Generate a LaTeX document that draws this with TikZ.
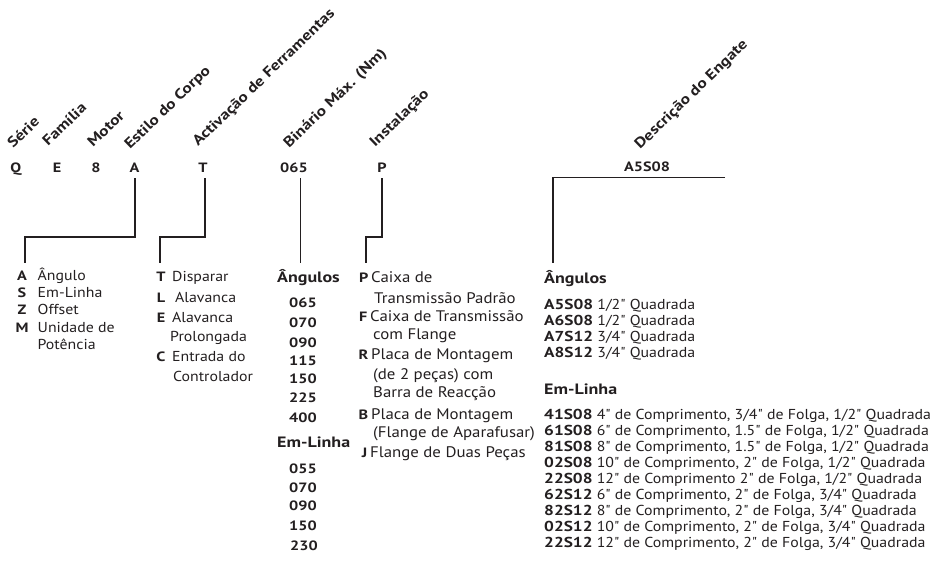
\documentclass[tikz,border=0pt]{standalone}
\usepackage{fontspec}
\setmainfont{PT Sans}[Ligatures=TeXOff, FakeStretch=1.1, BoldFeatures={FakeStretch=1.2}]
\definecolor{ink}{HTML}{231F20}
\begin{document}
\begin{tikzpicture}[x=1pt,y=-1pt,
  every node/.style={inner sep=0pt, text=ink},
  hdr/.style={font=\bfseries\fontsize{14.5}{14.5}\selectfont, rotate=44, anchor=base west},
  code/.style={font=\bfseries\fontsize{13.5}{13.5}\selectfont, anchor=base},
  key/.style={font=\bfseries\fontsize{13.5}{13.5}\selectfont, anchor=base},
  keye/.style={font=\bfseries\fontsize{13.5}{13.5}\selectfont, anchor=base east},
  sub/.style={font=\bfseries\fontsize{15}{15}\selectfont, anchor=base west},
  txt/.style={font=\fontsize{14.4}{14.4}\selectfont, anchor=base west},
  txti/.style={font=\fontsize{15.3}{15.3}\selectfont, anchor=base west},
  bkt/.style={draw=ink, line width=1.3pt, line join=miter}]
\useasboundingbox (0,0) rectangle (933,566);

% rotated headers
\node[hdr] (hS) at (13,149) {Série};
\node[hdr] (hF) at (48,147) {Família};
\node[hdr] (hM) at (93,148) {Motor};
\node[hdr] (hE) at (130,150) {Estilo do Corpo};
\node[hdr] (hA) at (198,147) {Activação de Ferramentas};
\node[hdr] (hB) at (289,149) {Binário Máx. (Nm)};
\node[hdr] (hI) at (375,148) {Instalação};
\node[hdr] (hD) at (640,150) {Descrição do Engate};

% code letters
\node[code] (cQ) at (15.7,172) {Q};
\node[code] (cE) at (57,172) {E};
\node[code] (c8) at (96,172) {8};
\node[code] (cA) at (134.5,172) {A};
\node[code] (cT) at (203,172) {T};
\node[code] (c065) at (294,172) {065};
\node[code] (cP) at (382,172) {P};
\node[code] (cD) at (647,171) {A5S08};

% brackets
\coordinate (aK) at (25,237); \coordinate (aE) at (25,263);
\draw[bkt] ([yshift=-6pt,xshift=0.5pt]cA.south) |- (aK) -- (aE);
\coordinate (tK) at (160,237); \coordinate (tE) at (160,263);
\draw[bkt] ([yshift=-6pt,xshift=2pt]cT.south) |- (tK) -- (tE);
\coordinate (bE) at (300.7,263);
\draw[bkt] ([yshift=-6pt]c065.south -| bE) -- (bE);
\coordinate (pK) at (366,237); \coordinate (pE) at (366,263);
\draw[bkt] ([yshift=-6pt]cP.south) |- (pK) -- (pE);
\coordinate (dR) at (725,177.5); \coordinate (dK) at (553,177.5); \coordinate (dE) at (553,263);
\draw[bkt] (dR) -- (dK) -- (dE);

% Estilo do Corpo list
\node[key] (kA) at (22,280) {A}; \node[txt] (tA1) at (37.5,280) {Ângulo};
\node[key] (kS) at (22,297) {S}; \node[txt] (tS1) at (37.5,297) {Em-Linha};
\node[key] (kZ) at (22,314.5) {Z}; \node[txt] (tZ1) at (37.5,314.5) {Offset};
\node[key] (kM) at (22,332) {M}; \node[txt] (tM1) at (37.5,332) {Unidade de};
\node[txt] (tM2) at (37.5,349) {Potência};

% Activacao list
\node[key] (kT) at (161,281.5) {T}; \node[txt] (tT1) at (172,281.5) {Disparar};
\node[key] (kL) at (161,302) {L}; \node[txt] (tL1) at (175,302) {Alavanca};
\node[key] (kE) at (161,322.5) {E}; \node[txt] (tE1) at (172,322.5) {Alavanca};
\node[txt] (tE2) at (170,341.5) {Prolongada};
\node[key] (kC) at (161,361.5) {C}; \node[txt] (tC1) at (172,361.5) {Entrada do};
\node[txt] (tC2) at (173,381.5) {Controlador};

% Binario list
\node[sub] (bH1) at (277,282) {Ângulos};
\node[key] (b1) at (303,307) {065};
\node[key] (b2) at (303,327) {070};
\node[key] (b3) at (303,347) {090};
\node[key] (b4) at (303,365) {115};
\node[key] (b5) at (303,383) {150};
\node[key] (b6) at (303,402) {225};
\node[key] (b7) at (303,422) {400};
\node[sub] (bH2) at (277,447) {Em-Linha};
\node[key] (b8) at (303,473) {055};
\node[key] (b9) at (303,492) {070};
\node[key] (b10) at (303,510) {090};
\node[key] (b11) at (303,530) {150};
\node[key] (b12) at (304,550) {230};

% Instalacao list
\node[keye] (iP) at (368.5,282.5) {P}; \node[txti] (iP1) at (371,282.5) {Caixa de};
\node[txti] (iP2) at (374,303.5) {Transmissão Padrão};
\node[keye] (iF) at (367.5,321.5) {F}; \node[txti] (iF1) at (370,321.5) {Caixa de Transmissão};
\node[txti] (iF2) at (373,339.5) {com Flange};
\node[keye] (iR) at (368.5,359.5) {R}; \node[txti] (iR1) at (371,359.5) {Placa de Montagem};
\node[txti] (iR2) at (373,379) {(de 2 peças) com};
\node[txti] (iR3) at (373,397.5) {Barra de Reacção};
\node[keye] (iB) at (368.5,419) {B}; \node[txti] (iB1) at (371,419) {Placa de Montagem};
\node[txti] (iB2) at (373,437.5) {(Flange de Aparafusar)};
\node[keye] (iJ) at (367.5,457.5) {J}; \node[txti] (iJ1) at (370,457.5) {Flange de Duas Peças};

% Engate list
\node[sub] (eH1) at (544,283) {Ângulos};
\node[txt] (e1) at (544,309) {\textbf{A5S08} 1/2" Quadrada};
\node[txt] (e2) at (544,325) {\textbf{A6S08} 1/2" Quadrada};
\node[txt] (e3) at (544,341.5) {\textbf{A7S12} 3/4" Quadrada};
\node[txt] (e4) at (544,357) {\textbf{A8S12} 3/4" Quadrada};
\node[sub] (eH2) at (544,394) {Em-Linha};
\node[txt] (e5) at (544,419.5) {\textbf{41S08} 4" de Comprimento, 3/4" de Folga, 1/2" Quadrada};
\node[txt] (e6) at (544,435.5) {\textbf{61S08} 6" de Comprimento, 1.5" de Folga, 1/2" Quadrada};
\node[txt] (e7) at (544,451) {\textbf{81S08} 8" de Comprimento, 1.5" de Folga, 1/2" Quadrada};
\node[txt] (e8) at (544,467.5) {\textbf{02S08} 10" de Comprimento, 2" de Folga, 1/2" Quadrada};
\node[txt] (e9) at (544,483.5) {\textbf{22S08} 12" de Comprimento 2" de Folga, 1/2" Quadrada};
\node[txt] (e10) at (544,499.5) {\textbf{62S12} 6" de Comprimento, 2" de Folga, 3/4" Quadrada};
\node[txt] (e11) at (544,515) {\textbf{82S12} 8" de Comprimento, 2" de Folga, 3/4" Quadrada};
\node[txt] (e12) at (544,531) {\textbf{02S12} 10" de Comprimento, 2" de Folga, 3/4" Quadrada};
\node[txt] (e13) at (544,547) {\textbf{22S12} 12" de Comprimento, 2" de Folga, 3/4" Quadrada};
\end{tikzpicture}
\end{document}
